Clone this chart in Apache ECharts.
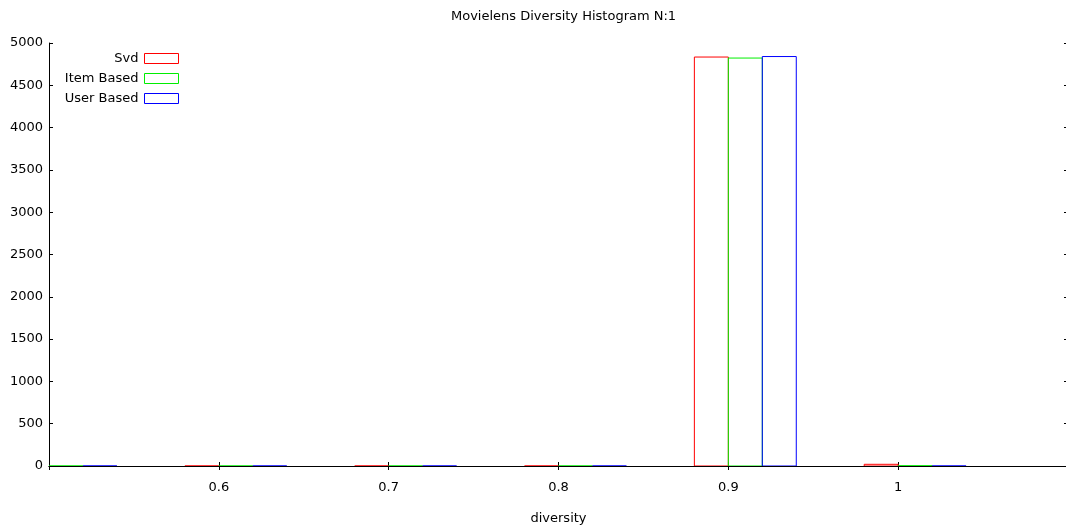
<!DOCTYPE html>
<html>
<head>
<meta charset="utf-8">
<style>
  html, body { margin: 0; padding: 0; background: #fff; }
  #chart { width: 1066px; height: 531px; }
</style>
<script src="https://cdn.jsdelivr.net/npm/echarts@6/dist/echarts.min.js"></script>
</head>
<body>
<div id="chart"></div>
<script>
// Histogram bins (left edge of each group), one value per method
const binStarts = [0.48, 0.58, 0.68, 0.78, 0.88, 0.98];
const svdCounts = [0, 0, 0, 0, 4834, 20];
const itemCounts = [0, 0, 0, 0, 4822, 3];
const userCounts = [0, 0, 0, 0, 4840, 0];
const xTicks = [0.6, 0.7, 0.8, 0.9, 1];
const yTicks = [0, 500, 1000, 1500, 2000, 2500, 3000, 3500, 4000, 4500, 5000];

const BIN_WIDTH = 0.02;
const FONT = 'DejaVu Sans';

const methods = [
  { name: 'Svd', color: '#ff0000', counts: svdCounts, offset: 0 },
  { name: 'Item Based', color: '#00ee00', counts: itemCounts, offset: 1 },
  { name: 'User Based', color: '#0000ff', counts: userCounts, offset: 2 }
];

function barRenderer(color) {
  return function (params, api) {
    const x0 = api.value(0);
    const x1 = api.value(1);
    const h = api.value(2);
    const pTop = api.coord([x0, h]);
    const pBot = api.coord([x1, 0]);
    return {
      type: 'rect',
      shape: { x: pTop[0], y: pTop[1], width: pBot[0] - pTop[0], height: pBot[1] - pTop[1] },
      style: { fill: 'none', stroke: color, lineWidth: 1 }
    };
  };
}

const series = methods.map(m => ({
  name: m.name,
  type: 'custom',
  xAxisIndex: 0,
  yAxisIndex: 0,
  clip: true,
  renderItem: barRenderer(m.color),
  itemStyle: { color: '#ffffff', borderColor: m.color, borderWidth: 1 },
  data: binStarts.map((s, i) => {
    const a = +(s + m.offset * BIN_WIDTH).toFixed(4);
    return [a, +(a + BIN_WIDTH).toFixed(4), m.counts[i]];
  })
}));

const legends = methods.map((m, i) => ({
  orient: 'vertical',
  right: 887,
  top: 52 + i * 20,
  padding: 0,
  itemWidth: 34,
  itemHeight: 10,
  itemGap: 0,
  align: 'right',
  selectedMode: false,
  textStyle: { fontFamily: FONT, fontSize: 13, color: '#000', padding: [0, 1, 0, 0] },
  data: [{
    name: m.name,
    icon: 'path://M0,0H34V10H0Z',
    itemStyle: { color: '#ffffff', borderColor: m.color, borderWidth: 1 }
  }]
}));

const axisLine = { show: true, lineStyle: { color: '#000', width: 1 } };
const tickStyle = { show: true, inside: true, length: 4, lineStyle: { color: '#000' } };

const option = {
  animation: false,
  backgroundColor: '#fff',
  title: {
    text: 'Movielens Diversity Histogram N:1',
    left: 446,
    top: 5,
    textStyle: { fontFamily: FONT, fontSize: 13, fontWeight: 'normal', color: '#000' }
  },
  legend: legends,
  // plot frame runs slightly past the right edge of the canvas
  grid: { left: 49, width: 1019, top: 43, height: 423, outerBoundsMode: 'none', containLabel: false },
  xAxis: [
    {
      type: 'value', min: 0.5, max: 1.1, interval: 0.1, position: 'bottom',
      name: 'diversity', nameLocation: 'middle', nameGap: 46,
      nameTextStyle: { fontFamily: FONT, fontSize: 13, color: '#000' },
      axisLine: axisLine, axisTick: tickStyle, splitLine: { show: false },
      axisLabel: {
        fontFamily: FONT, fontSize: 13, color: '#000', margin: 15,
        formatter: v => {
          const hit = xTicks.find(t => Math.abs(t - v) < 1e-6);
          return hit === undefined ? '' : String(hit);
        }
      }
    },
    {
      type: 'value', min: 0.5, max: 1.1, interval: 0.1, position: 'top',
      axisLine: axisLine, axisTick: tickStyle, splitLine: { show: false },
      axisLabel: { show: false }
    }
  ],
  yAxis: [
    {
      type: 'value', min: 0, max: 5000, interval: 500, position: 'left',
      axisLine: axisLine, axisTick: tickStyle, splitLine: { show: false },
      axisLabel: {
        fontFamily: FONT, fontSize: 13, color: '#000', margin: 6,
        formatter: v => (yTicks.indexOf(v) >= 0 ? String(v) : '')
      }
    },
    {
      type: 'value', min: 0, max: 5000, interval: 500, position: 'right',
      axisLine: axisLine, axisTick: tickStyle, splitLine: { show: false },
      axisLabel: { show: false }
    }
  ],
  series: series
};

const chart = echarts.init(document.getElementById('chart'), null, { renderer: 'canvas' });
chart.setOption(option);
</script>
</body>
</html>
